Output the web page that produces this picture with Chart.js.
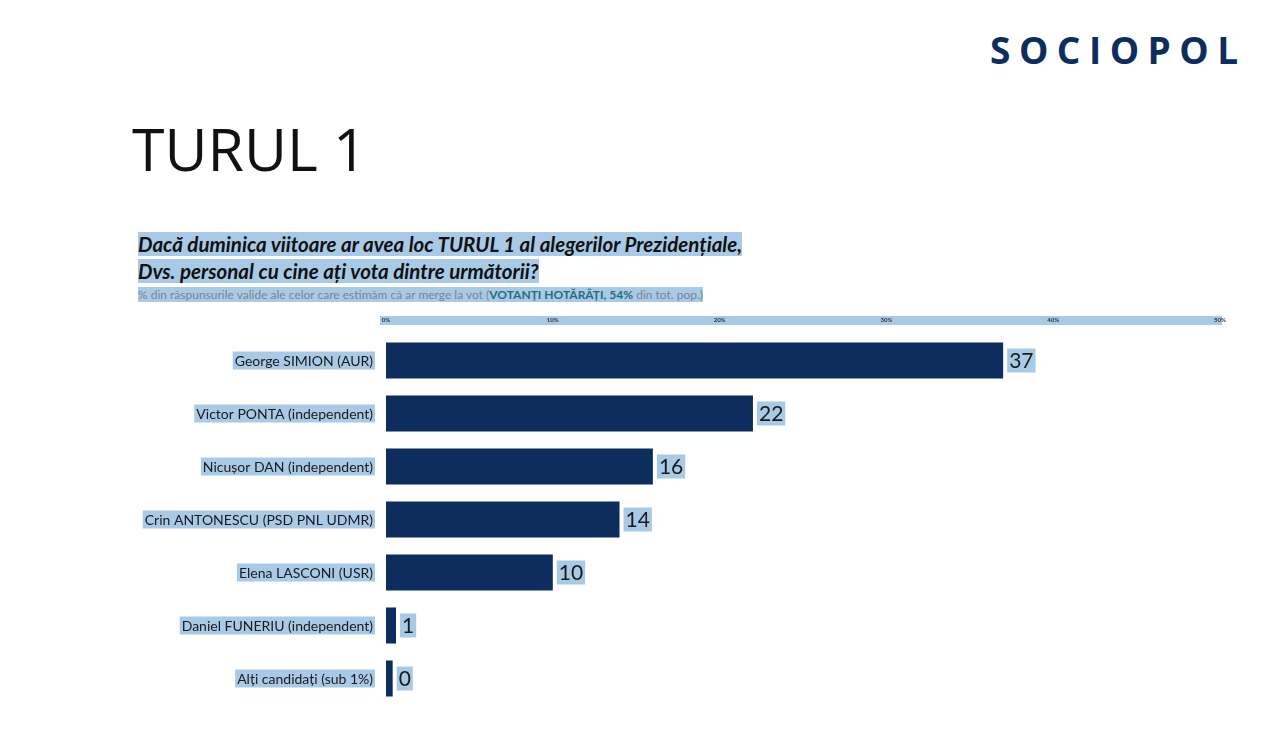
<!DOCTYPE html>
<html><head><meta charset="utf-8">
<script src="https://cdn.jsdelivr.net/npm/chart.js@4/dist/chart.umd.min.js"></script>
<style>
body{margin:0;width:1262px;height:750px;background:#fff;position:relative;overflow:hidden;font-family:Lato,"Open Sans",sans-serif}
.abs{position:absolute;white-space:nowrap}
.hl{background:#a8cae6}
#logo{left:990px;top:24px;font-size:37px;font-weight:700;color:#0d2d5e;letter-spacing:8.5px;font-family:"Open Sans",sans-serif}
#title{left:132px;top:108px;font-size:59px;color:#111;font-family:"Open Sans",sans-serif}
#q{left:138px;top:231px;font-size:20.5px;font-weight:700;font-style:italic;color:#111;line-height:27px}
#sub{left:138px;top:287px;font-size:12px;color:#7a8594}
#sub b{color:#1f6f80}
</style></head><body>
<div id="logo" class="abs">SOCIOPOL</div>
<div id="title" class="abs">TURUL 1</div>
<div id="q" class="abs"><span class="hl">Dacă duminica viitoare ar avea loc TURUL 1 al alegerilor Prezidențiale,</span><br><span class="hl">Dvs. personal cu cine ați vota dintre următorii?</span></div>
<div id="sub" class="abs"><span class="hl">% din răspunsurile valide ale celor care estimăm că ar merge la vot (<b>VOTANȚI HOTĂRÂȚI, 54%</b> din tot. pop.)</span></div>
<div style="position:absolute;left:0;top:300px;width:1262px;height:420px"><canvas id="c"></canvas></div>
<script>
const categories=["George SIMION (AUR)","Victor PONTA (independent)","Nicușor DAN (independent)","Crin ANTONESCU (PSD PNL UDMR)","Elena LASCONI (USR)","Daniel FUNERIU (independent)","Alți candidați (sub 1%)"];
const values=[37,22,16,14,10,0.6,0.4];
const valueLabels=["37","22","16","14","10","1","0"];
const tickLabels=["0%","10%","20%","30%","40%","50%"];
const HL="#a8cae6";
const deco={id:"deco",afterDatasetsDraw(ch){
 const c=ch.ctx,x=ch.scales.x,y=ch.scales.y;
 c.save();
 c.fillStyle=HL;c.fillRect(380,16,842,9);
 c.font="bold 6px Lato";c.fillStyle="#333";c.textBaseline="middle";c.textAlign="center";
 tickLabels.forEach((t,i)=>c.fillText(t,x.getPixelForValue(i*10),20.5));
 c.font="14px Lato";c.textAlign="right";
 categories.forEach((t,i)=>{const py=y.getPixelForValue(i);const w=c.measureText(t).width;
  c.fillStyle=HL;c.fillRect(373-w-2,py-9,w+4,18);c.fillStyle="#1a1a1a";c.fillText(t,373,py+1);});
 c.font="21px Lato";c.textAlign="left";
 const meta=ch.getDatasetMeta(0);
 valueLabels.forEach((t,i)=>{const b=meta.data[i];const w=c.measureText(t).width;const px=b.x+4;
  c.fillStyle=HL;c.fillRect(px,b.y-12,w+4,24);c.fillStyle="#1a1a1a";c.fillText(t,px+2,b.y+1);});
 c.restore();}};
new Chart(document.getElementById("c"),{type:"bar",
 data:{labels:categories,datasets:[{data:values,backgroundColor:"#0d2d5e",barPercentage:0.68,categoryPercentage:1}]},
 options:{indexAxis:"y",responsive:true,maintainAspectRatio:false,animation:false,
  layout:{padding:{right:42,bottom:15,top:0,left:0}},
  plugins:{legend:{display:false},tooltip:{enabled:false}},
  scales:{x:{position:"top",min:0,max:50,grid:{display:false},border:{display:false},ticks:{display:false},afterFit(s){s.height=34;}},
   y:{grid:{display:false},border:{display:false},ticks:{display:false},afterFit(s){s.width=386;}}}},
 plugins:[deco]});
</script></body></html>
